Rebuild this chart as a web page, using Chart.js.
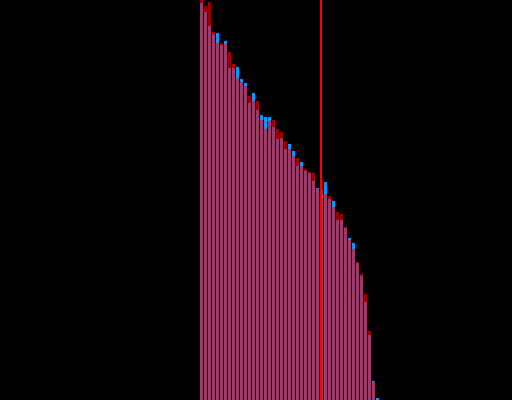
<!DOCTYPE html>
<html>
<head>
<meta charset="utf-8">
<script src="https://cdn.jsdelivr.net/npm/chart.js@4.4.1/dist/chart.umd.min.js"></script>
<style>
  html, body { margin: 0; padding: 0; background: #000; }
  canvas { display: block; background: #000; }
</style>
</head>
<body>
<canvas id="chart" width="512" height="400"></canvas>
<script>
// Vị trí các cột (thứ hạng)
const ranks = [
  0, 1, 2, 3, 4, 5, 6, 7, 8, 9, 10, 11, 12, 13, 14, 15, 16, 17, 18, 19, 20, 21,
  22, 23, 24, 25, 26, 27, 28, 29, 30, 31, 32, 33, 34, 35, 36, 37, 38, 39, 40, 41,
  42, 43, 44,
];

// Chuỗi đỏ (vẽ đè lên trên, bán trong suốt)
const redValues = [
  400, 394, 398, 368, 357, 357, 356, 348, 336, 322, 318, 314, 304, 299, 299, 280,
  271, 279, 280, 271, 268, 259, 251, 244, 242, 234, 231, 228, 227, 211, 220, 206,
  204, 193, 188, 186, 173, 160, 151, 138, 126, 106, 69, 18, 0,
];

// Chuỗi xanh
const blueValues = [
  397, 388, 374, 366, 367, 355, 359, 332, 332, 333, 321, 317, 297, 307, 290, 285,
  283, 283, 273, 261, 262, 251, 256, 249, 234, 238, 229, 227, 219, 212, 210, 218,
  201, 199, 180, 180, 172, 162, 157, 137, 124, 98, 65, 19, 2,
];

// Vạch đỏ dọc
const markerRank = 29.875;
const yMax = 400;

const toPoints = (values) => ranks.map((r, i) => ({ x: r, y: values[i] }));

const ctx = document.getElementById("chart").getContext("2d");
const chart = new Chart(ctx, {
  type: "bar",
  data: {
    datasets: [
      {
        type: "line",
        data: [
          { x: markerRank, y: 0 },
          { x: markerRank, y: yMax },
        ],
        borderColor: "rgb(255, 0, 0)",
        borderWidth: 2,
        pointRadius: 0,
        fill: false,
      },
      {
        data: toPoints(redValues),
        backgroundColor: "rgba(255, 0, 0, 0.6)",
        borderWidth: 0,
        inflateAmount: 0,
        barThickness: 3,
        grouped: false,
      },
      {
        data: toPoints(blueValues),
        backgroundColor: "rgb(0, 153, 255)",
        borderWidth: 0,
        inflateAmount: 0,
        barThickness: 3,
        grouped: false,
      },
    ],
  },
  options: {
    responsive: false,
    animation: false,
    devicePixelRatio: 1,
    layout: { padding: 0, autoPadding: false },
    plugins: {
      legend: { display: false },
      tooltip: { enabled: false },
    },
    scales: {
      x: {
        type: "linear",
        display: false,
        min: -50.375,
        max: 77.625,
        offset: false,
      },
      y: {
        display: false,
        min: 0,
        max: yMax,
      },
    },
  },
});
</script>
</body>
</html>
